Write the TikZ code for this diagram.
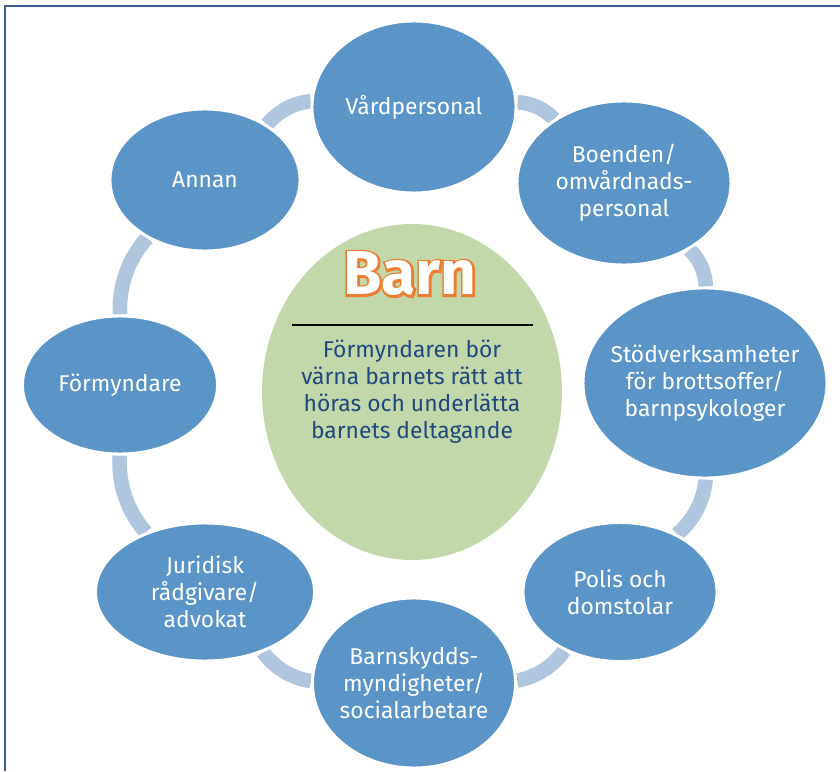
\documentclass[tikz,border=0pt]{standalone}
\usepackage{fontspec}
\setmainfont{Fira Sans}
\newfontfamily\barnrimfont{Fira Sans}[UprightFont={* Bold}, FakeBold=7]
\usetikzlibrary{shapes.geometric,backgrounds}

\definecolor{rolefill}{RGB}{91,148,199}
\definecolor{ringblue}{RGB}{176,197,222}
\definecolor{childfill}{RGB}{195,216,170}
\definecolor{childtext}{RGB}{31,73,125}
\definecolor{barnorange}{RGB}{237,125,49}
\definecolor{frameblue}{RGB}{59,94,140}

\begin{document}
\begin{tikzpicture}[x = 0.03cm, y = 0.03cm,
        role/.style={ellipse, fill=rolefill, draw=white, line width=2.5pt, inner sep=-40pt, text=white, align=center, font=\fontsize{19.5}{23}\selectfont},
        child/.style={ellipse, fill=childfill, inner sep=-40pt, text=childtext, align=center, font=\fontsize{19.5}{23}\selectfont},
        ring/.style={draw=ringblue, line width=12.5pt, bend left=22.5, looseness=0.89},
        barntitle/.style={inner sep=0pt, font=\fontsize{53}{60}\selectfont\bfseries}]

        \useasboundingbox (0, 0) rectangle (840, 771);
        \draw[frameblue, line width=1.6pt] (5, 0) |- (840, 765);

        \node[role, minimum width=6.12cm, minimum height=5.16cm] at (414, 664) (vard) {Vårdpersonal};
        \node[role, minimum width=6.42cm, minimum height=4.92cm] at (624, 588) (boenden) {Boenden/\\omvårdnads-\\personal};
        \node[role, minimum width=7.32cm, minimum height=5.70cm] at (705, 388) (stod) {Stödverksamheter\\för brottsoffer/\\barnpsykologer};
        \node[role, minimum width=5.82cm, minimum height=4.17cm] at (620, 179) (polis) {Polis och\\domstolar};
        \node[role, minimum width=6.09cm, minimum height=5.10cm] at (414, 88) (barnskydd) {Barnskydds-\\myndigheter/\\socialarbetare};
        \node[role, minimum width=6.57cm, minimum height=4.14cm] at (205, 179) (juridisk) {Juridisk\\rådgivare/\\advokat};
        \node[role, minimum width=5.85cm, minimum height=4.14cm] at (120, 386) (formyndare) {Förmyndare};
        \node[role, minimum width=5.70cm, minimum height=4.26cm] at (205, 591) (annan) {Annan};

        \node[child, minimum width=9.0cm, minimum height=10.08cm] at (412, 379) (barnet) {Förmyndaren bör\\värna barnets rätt att\\höras och underlätta\\barnets deltagande};

        \node[barntitle, text=barnorange, font=\fontsize{53}{60}\barnrimfont] at (410, 497) (barnrim) {Barn};
        \node[barntitle, text=white] at (barnrim) (barn) {Barn};
        \draw[line width=1.2pt] (292, 446) -- (533, 446);

        \begin{pgfonlayer}{background}
        \draw[ring] (vard) to (boenden);
        \draw[ring] (boenden) to (stod);
        \draw[ring] (stod) to (polis);
        \draw[ring] (polis) to (barnskydd);
        \draw[ring] (barnskydd) to (juridisk);
        \draw[ring] (juridisk) to (formyndare);
        \draw[ring] (formyndare) to (annan);
        \draw[ring] (annan) to (vard);
        \end{pgfonlayer}
\end{tikzpicture}
\end{document}
